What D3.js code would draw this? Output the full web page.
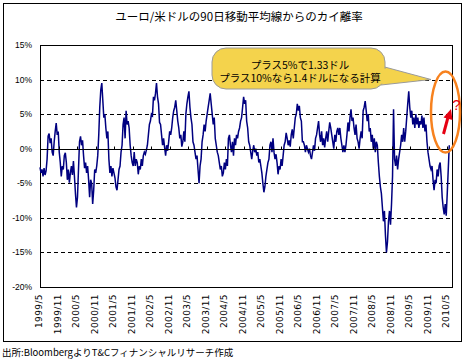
<!DOCTYPE html>
<html><head><meta charset="utf-8">
<script src="https://cdn.jsdelivr.net/npm/d3@7/dist/d3.min.js"></script>
<style>
html,body{margin:0;padding:0;background:#fff;}
svg{display:block;}
</style></head>
<body>
<svg id="chart" width="469" height="360"></svg>
<script>
const chartTitle = "ユーロ/米ドルの90日移動平均線からのカイ離率";
const sourceNote = "出所:BloombergよりT&Cフィナンシャルリサーチ作成";
const calloutLines = ["プラス5%で1.33ドル", "プラス10%なら1.4ドルになる計算"];
const startDate = "1999-05-01";
const stepDays = 10;
const deviation = [
-2.7,-3.5,-3.0,-4.0,-2.8,-3.8,-3.2,-1.5,1.8,2.2,
0.8,1.5,-0.5,-1.0,1.0,2.5,3.7,2.0,2.5,-0.5,
-2.0,-4.0,-2.5,-3.0,-1.0,-0.6,-2.0,-4.5,-3.0,-4.9,
-3.5,-2.5,-3.8,-1.8,-4.0,-6.5,-8.5,-7.0,-3.0,
1.0,1.8,0.5,1.2,-1.0,-2.8,-2.0,-3.5,-2.5,-4.5,
-7.0,-4.5,-5.0,-8.0,-6.0,-3.0,-3.5,-2.5,-1.0,2.0,
6.0,8.5,9.5,7.0,4.5,5.0,3.0,1.5,2.5,-1.5,
-3.5,-2.5,-4.0,-2.8,-3.5,-4.2,-5.5,-6.0,-4.5,-3.0,
-2.5,-0.5,0.5,3.5,4.5,1.5,5.5,3.5,4.0,3.0,
0.5,-1.0,-2.0,-2.5,-0.5,-2.5,-1.5,-2.0,-3.7,-2.5,
-3.0,-1.5,-2.5,-1.0,-0.5,-0.8,-0.2,0.5,2.0,3.5,
4.0,5.0,4.8,7.5,7.0,8.0,9.5,7.5,6.5,
3.8,3.5,2.0,0.5,1.5,0.2,-1.0,0.5,-0.3,1.0,
2.5,2.0,3.0,4.5,5.5,6.0,7.0,5.5,4.0,3.0,
1.5,2.0,0.3,1.0,2.5,1.0,5.0,6.5,7.5,8.3,
6.0,4.5,3.5,1.0,0.5,-0.5,-1.5,-1.0,-3.0,-5.0,
-2.5,-1.5,1.0,2.0,3.5,2.5,4.0,5.0,6.0,7.0,
8.0,6.5,5.0,3.5,4.5,1.5,0.5,-0.5,-1.0,-2.0,
-3.0,-2.5,-4.0,-3.5,-2.0,-3.0,-1.5,-2.5,1.5,
2.0,0.5,-0.5,1.0,-1.0,1.5,0.5,2.0,1.5,2.5,
3.0,4.0,4.5,6.0,7.5,6.5,7.0,4.0,3.0,1.0,
0.5,-0.5,-1.5,-0.3,0.5,-0.5,0.0,-1.0,-0.5,-2.0,
-1.5,-2.5,-3.5,-5.0,-6.3,-5.5,-4.0,-3.0,-2.0,-1.5,
0.5,1.0,-0.5,1.5,-0.5,-1.5,-0.8,-2.0,-3.7,-2.5,
-3.0,-1.5,-2.5,-1.0,0.5,1.0,2.3,1.5,0.5,1.2,
0.3,2.0,2.8,1.5,3.0,4.5,5.0,6.5,5.5,6.2,
4.5,4.0,1.0,1.0,0.5,-0.5,0.5,0.0,-0.5,
0.0,-1.0,-1.5,-0.5,0.5,-0.3,1.5,2.0,3.0,4.0,
2.0,1.0,2.5,0.5,1.5,0.2,1.5,2.5,1.0,2.5,
3.8,3.0,2.0,1.0,0.0,2.0,1.0,2.5,3.0,2.0,
3.0,1.5,0.5,-0.5,0.5,-0.5,0.5,2.0,3.8,2.5,
4.5,5.7,4.0,4.5,3.0,2.0,3.5,1.5,1.0,0.0,
1.5,2.5,1.5,5.5,6.0,6.9,5.5,4.0,5.0,2.5,
3.0,1.0,2.0,0.0,1.5,-0.5,1.0,0.5,-2.0,
-4.0,-5.5,-6.5,-8.5,-10.5,-9.0,-12.5,-15.0,-13.5,-10.5,
-9.0,-11.0,-8.0,-4.0,5.7,-1.5,-2.5,-1.0,-3.0,-1.5,
-0.5,0.5,2.0,1.0,3.0,1.0,2.5,4.5,6.5,8.3,
6.0,4.5,5.5,3.5,4.5,3.0,5.0,3.5,4.5,3.0,
4.0,3.5,4.8,3.0,4.5,2.5,3.5,1.0,-0.5,-1.5,
-2.5,-3.0,-2.5,-4.5,-6.0,-4.5,-5.0,-3.0,-4.0,-2.5,
-2.0,-4.0,-7.0,-8.5,-9.5,-8.0,-9.7,-6.5,-3.0,0.5
];
const yTickValues = [15, 10, 5, 0, -5, -10, -15, -20];
const yTickLabels = ["15%", "10%", "5%", "0%", "-5%", "-10%", "-15%", "-20%"];
const xTickLabels = ["1999/5","1999/11","2000/5","2000/11","2001/5","2001/11","2002/5","2002/11",
"2003/5","2003/11","2004/5","2004/11","2005/5","2005/11","2006/5","2006/11","2007/5","2007/11",
"2008/5","2008/11","2009/5","2009/11","2010/5"];
const xDomain = ["1999-05-01", "2010-06-19"];

(function () {
const svg = d3.select("#chart");
const jp = "'Noto Sans CJK JP', 'Noto Sans', sans-serif";
const pL = 40, pR = 452, pT = 45, pB = 287;

const parse = d3.utcParse("%Y-%m-%d");
const x = d3.scaleUtc().domain(xDomain.map(parse)).range([pL, pR]);
const y = d3.scaleLinear().domain([-20, 15]).range([pB, pT]);

const t0 = parse(startDate);
const series = deviation.map((v, i) => ({date: d3.utcDay.offset(t0, i * stepDays), value: v}));
const tickDates = xTickLabels.map(s => { const [yy, mm] = s.split("/").map(Number); return new Date(Date.UTC(yy, mm - 1, 1)); });

svg.append("rect").attr("x", 3.5).attr("y", 3.5).attr("width", 458).attr("height", 338)
  .attr("fill", "#fff").attr("stroke", "#000").attr("stroke-width", 1);

svg.append("text").attr("x", 239).attr("y", 21).attr("text-anchor", "middle")
  .attr("font-family", jp).attr("font-size", 11.5).attr("fill", "#000").text(chartTitle);

const snap = v => Math.round(v) + 0.5;
svg.append("g").selectAll("line").data(yTickValues.filter(v => v !== 0 && v !== 15 && v !== -20))
  .join("line").attr("x1", pL).attr("x2", pR)
  .attr("y1", d => snap(y(d))).attr("y2", d => snap(y(d)))
  .attr("stroke", "#000").attr("stroke-width", 1).attr("stroke-dasharray", "4,3");

svg.append("rect").attr("x", pL + 0.5).attr("y", pT + 0.5).attr("width", pR - pL).attr("height", pB - pT)
  .attr("fill", "none").attr("stroke", "#000").attr("stroke-width", 1);

svg.append("g").selectAll("text").data(yTickValues).join("text")
  .attr("x", 32).attr("y", d => y(d)).attr("dy", "0.35em").attr("text-anchor", "end")
  .attr("font-family", "'Liberation Sans', Arial, sans-serif").attr("font-size", 8.5).attr("fill", "#000")
  .text((d, i) => yTickLabels[i]);

const line = d3.line().x(d => x(d.date)).y(d => y(d.value));
svg.append("path").datum(series).attr("d", line).attr("fill", "none")
  .attr("stroke", "#000080").attr("stroke-width", 1.5).attr("stroke-linejoin", "miter");

const y0 = snap(y(0));
svg.append("line").attr("x1", pL).attr("x2", pR).attr("y1", y0).attr("y2", y0)
  .attr("stroke", "#000").attr("stroke-width", 1);
svg.append("g").selectAll("line").data(tickDates).join("line")
  .attr("x1", d => snap(x(d))).attr("x2", d => snap(x(d))).attr("y1", y0).attr("y2", y0 - 3)
  .attr("stroke", "#000").attr("stroke-width", 1);

svg.append("g").selectAll("text").data(tickDates).join("text")
  .attr("transform", d => `translate(${x(d) - 1},294) rotate(-90)`)
  .attr("dy", "0.35em").attr("text-anchor", "end")
  .attr("font-family", "'DejaVu Sans', sans-serif").attr("font-size", 9).attr("letter-spacing", 0.4)
  .attr("fill", "#000").text((d, i) => xTickLabels[i]);

const bub = svg.append("g");
const tail = [[381, 66], [431, 79.5], [381, 85]];
bub.append("path").attr("d", "M" + tail.join("L") + "Z").attr("fill", "#F4D34C").attr("stroke", "#9a9a9a").attr("stroke-width", 1);
bub.append("rect").attr("x", 212).attr("y", 48).attr("width", 173).attr("height", 41).attr("rx", 14).attr("ry", 14)
  .attr("fill", "#F4D34C").attr("stroke", "#9a9a9a").attr("stroke-width", 1);
bub.append("path").attr("d", "M" + [[378, 67], [426, 79], [378, 84]].join("L") + "Z").attr("fill", "#F4D34C");
bub.selectAll("text.c").data(calloutLines).join("text").attr("class", "c")
  .attr("x", 300).attr("y", (d, i) => 68.5 + i * 13.5).attr("text-anchor", "middle")
  .attr("font-family", jp).attr("font-size", 10.5).attr("fill", "#000").text(d => d);

svg.append("ellipse").attr("cx", 445.5).attr("cy", 112).attr("rx", 14.5).attr("ry", 40.5)
  .attr("fill", "none").attr("stroke", "#F7821F").attr("stroke-width", 2.5);

svg.append("line").attr("x1", 443.5).attr("y1", 134).attr("x2", 447.8).attr("y2", 118)
  .attr("stroke", "#E60012").attr("stroke-width", 3);
svg.append("path").attr("d", "M451,109 L452.5,120 L443.5,117.5 Z").attr("fill", "#E60012");

svg.append("text").attr("x", 456.5).attr("y", 110).attr("text-anchor", "middle")
  .attr("font-family", "'Liberation Sans', sans-serif").attr("font-size", 15).attr("fill", "#E60012").text("?");

svg.append("text").attr("x", 2).attr("y", 356).attr("font-family", jp).attr("font-size", 9.5)
  .attr("fill", "#000").text(sourceNote);
})();
</script>
</body></html>
